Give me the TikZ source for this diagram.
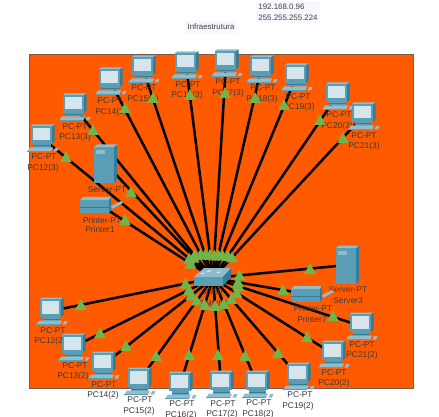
\documentclass[tikz,border=0pt]{standalone}
\usepackage{fontspec}
\setmainfont{Liberation Sans}
\usetikzlibrary{calc}
\definecolor{bgorange}{HTML}{FF5A00}
\definecolor{bgedge}{HTML}{7A5A48}
\definecolor{tealmain}{HTML}{5B9DB5}
\definecolor{tealdark}{HTML}{2F7F9C}
\definecolor{teallight}{HTML}{8FBDCC}
\definecolor{screencol}{HTML}{D6E4EC}
\definecolor{tricol}{HTML}{6FB54A}
\definecolor{notecol}{HTML}{F6F8FE}
\definecolor{labelcol}{HTML}{3C3A3A}
\tikzset{
  devlabel/.style={font=\fontsize{6.3}{7}\selectfont, text=labelcol, inner sep=0pt},
  notetext/.style={font=\fontsize{5.9}{8.2}\selectfont, text=black!75, fill=notecol, inner sep=2pt, align=left},
  anchorbox/.style={inner sep=0pt, minimum size=2pt},
  wire/.style={line width=1.9pt, black},
  pics/tri/.style={code={\fill[tricol] (-5.8,5) -- (5.8,5) -- (0,-6) -- cycle;}},
  pics/pcicon/.style={code={
    % origin = monitor top-left
    \fill[tealdark] (21,1) -- (23.5,-0.5) -- (23.5,16.5) -- (21,19) -- cycle;
    \fill[teallight] (0,1) -- (2,-0.5) -- (23.5,-0.5) -- (21,1) -- cycle;
    \fill[tealmain] (0,1) rectangle (21,19);
    \fill[screencol] (2,3) rectangle (19,15.5);
    \fill[tealmain] (3,19) rectangle (20,22.5);
    \fill[tealdark] (3,20.5) rectangle (20,21.3);
    \fill[teallight] (-4,27) -- (-1,22.5) -- (22,22.5) -- (20,27) -- cycle;
    \fill[tealmain] (-4,26) rectangle (20,27);
    \fill[teallight] (22.5,26.5) -- (24,23) -- (27.5,23) -- (26,26.5) -- cycle;
  }},
  pics/servericon/.style={code={
    % origin = top-left of the front face
    \fill[tealdark] (20,2) -- (23,-0.5) -- (23,35) -- (20,38) -- cycle;
    \fill[teallight] (0,2) -- (3,-0.5) -- (23,-0.5) -- (20,2) -- cycle;
    \fill[tealmain] (0,2) rectangle (20,38);
    \fill[teallight] (2,5) rectangle (11,9);
  }},
  pics/printericon/.style={code={
    % origin = top-left of the body
    \fill[teallight] (0,3) -- (3,0) -- (31,0) -- (29,3) -- cycle;
    \fill[tealmain] (0,3) rectangle (29,16);
    \fill[tealdark] (0,10) rectangle (29,11);
    \fill[tealdark] (29,3) -- (31,0) -- (31,13) -- (29,16) -- cycle;
    \fill[teallight] (31,9) -- (41,4) -- (43,6) -- (32,12) -- cycle;
  }},
  pics/switchicon/.style={code={
    % origin = switch centre
    \fill[teallight] (-19,-1) -- (-9,-10) -- (18,-10) -- (10,-1) -- cycle;
    \fill[tealmain] (-19,-1) rectangle (10,8);
    \fill[tealdark] (10,-1) -- (18,-10) -- (18,-1) -- (10,8) -- cycle;
    \fill[white!85!teallight] (-7,-6) -- (-3,-8) -- (-1,-8) -- (-5,-6) -- cycle;
    \fill[white!85!teallight] (-13,-4) -- (-10,-5.5) -- (-8,-5.5) -- (-11,-4) -- cycle;
    \fill[white!85!teallight] (3,-5) -- (6,-6.5) -- (8,-6.5) -- (5,-5) -- cycle;
  }},
}
\begin{document}
\begin{tikzpicture}[x=0.75pt,y=-0.75pt]
\useasboundingbox (0,0) rectangle (439,417);
\fill[white] (0,0) rectangle (439,417);
% area
\fill[black!45] (30,55) rectangle (413.5,388.5);
\draw[bgedge, fill=bgorange, line width=0.6pt] (29,54) rectangle (413,388);
% notes
\node[notetext] (infra) at (211,27) {Infraestrutura};
\node[notetext] (net) at (288,12) {192.168.0.96\\255.255.255.224};
% switch
\node[anchorbox] (sw) at (213,278) {};
% device anchors: name / monitor x / monitor y
\foreach \n/\x/\y in {
  a/31/125, b/63/94, c/99/68, d/132/56, e/175/52, f/215/50, g/250/56, h/285/64, i/326/83, j/352/103,
  k/40/298, l/62/334, m/92/352, n/128/368, o/169/372, p/210/371, q/246/371, r/287/363, s/322/341, t/350/313}
  {\node[anchorbox] (pc\n) at ({\x+11},{\y+13}) {};}
\node[anchorbox] (srvA) at (106,164) {};
\node[anchorbox] (prnA) at (100,205) {};
\node[anchorbox] (srvB) at (347,265) {};
\node[anchorbox] (prnB) at (306,294) {};
% connectors
\foreach \n in {pca,pcb,pcc,pcd,pce,pcf,pcg,pch,pci,pcj,pck,pcl,pcm,pcn,pco,pcp,pcq,pcr,pcs,pct,srvA,prnA,srvB,prnB}
  {\draw[wire] (\n) -- (sw);}
% labels
\foreach \x/\y/\t in {
  44/157/PC-PT, 43/168/PC12(3), 75/127/PC-PT, 75/137/PC13(3), 110/101/PC-PT, 111/112/PC14(3),
  144/88/PC-PT, 143/99/PC15(3), 188/85/PC-PT, 187/95/PC16(3), 228/82/PC-PT, 228/93/PC17(3),
  263/88/PC-PT, 262/99/PC18(3), 298/97/PC-PT, 299/107/PC19(3), 339/115/PC-PT, 337/126/PC20(3),
  364/136/PC-PT, 364/146/PC21(3),
  53/331/PC-PT, 50/341/PC12(2), 75/366/PC-PT, 73/376/PC13(2), 104/385/PC-PT, 103/395/PC14(2),
  140/400/PC-PT, 139/411/PC15(2), 182/404/PC-PT, 181/415/PC16(2), 223/404/PC-PT, 222/414/PC17(2),
  259/403/PC-PT, 258/414/PC18(2), 300/395/PC-PT, 298/406/PC19(2), 334/373/PC-PT, 334/383/PC20(2),
  362/345/PC-PT, 362/355/PC21(2),
  107/190/Server-PT, 102/220/Printer-PT, 100/229/Printer1,
  348/290/Server-PT, 348/301/Server3, 313/308/Printer-PT, 312/319/Printer7,
  213/292/2960, 213/303/Switch4}
  {\node[devlabel] at (\x,\y) {\t};}
% icons
\foreach \n in {a,b,c,d,e,f,g,h,i,j,k,l,m,n,o,p,q,r,s,t}
  {\pic at ($(pc\n)+(-11,-13)$) {pcicon};}
\pic at (94,145) {servericon};
\pic at (80,197) {printericon};
\pic at (336,246) {servericon};
\pic at (291,286) {printericon};
\pic at (sw) {switchicon};
% link lights, device end
\foreach \x/\y in {
  66/157, 93/130, 125/108, 153/98, 190/95, 225/93, 255/98, 284/105, 320/120, 343/138,
  81/305, 100/333, 126/346, 156/356, 189/355, 218/355, 245/356, 278/353, 307/337, 333/316,
  131/192, 125/220, 310/269, 283/290}
  {\pic at (\x,\y) {tri};}
% link lights, switch end
\foreach \n/\d in {pca/23, pcb/22, srvA/21, prnA/20, pcc/20, pcd/18.5, pce/17.5, pcf/17, pcg/17.5, pch/18.5, pci/20, pcj/21,
  pck/21, pcl/20, pcm/21, pcn/21, pco/21, pcp/21, pcq/21, pcr/21, pcs/21, pct/20, prnB/19, srvB/20}
  {\pic at ($(sw)!\d pt!(\n)$) {tri};}
\end{tikzpicture}
\end{document}
